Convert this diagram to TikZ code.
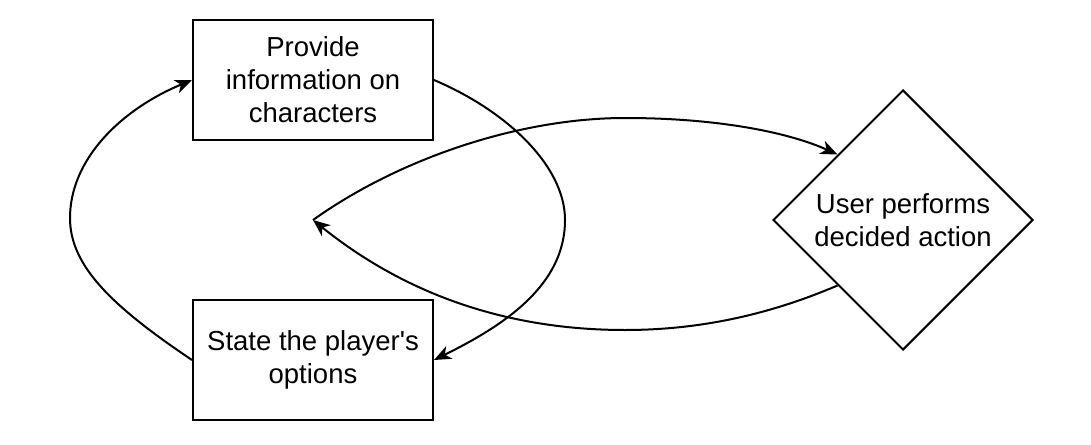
\documentclass[tikz,border=0pt]{standalone}
\usepackage{fontspec}
\setmainfont{Liberation Sans}
\usetikzlibrary{shapes.geometric,arrows.meta}
\newcommand{\straightquote}{\XeTeXglyph\the\XeTeXcharglyph"0027\relax}
\begin{document}
\begin{tikzpicture}[x=1pt,y=-1pt,
  box/.style={draw,line width=2pt,minimum width=240pt,minimum height=120pt,inner sep=0pt,align=center,font=\fontsize{27.5}{33}\selectfont},
  dia/.style={draw,diamond,line width=2pt,minimum width=260pt,minimum height=260pt,inner sep=0pt,align=center,font=\fontsize{27.5}{33}\selectfont},
  conn/.style={line width=2pt,-{Stealth[length=17pt,width=14pt,inset=5pt]}}]
\useasboundingbox (0,0) rectangle (1091,444);
\node[box] (b1) at (313,80) {Provide\\information on\\characters};
\node[box] (b2) at (313,360) {State the player\straightquote s\\options};
\node[dia] (d) at (903,220) {User performs\\decided action};
\coordinate (hub) at (313,220);
\draw[conn] (b2.west) .. controls (110,305) and (70,265) .. (70,218) .. controls (70,160) and (120,110) .. (b1.west);
\draw[conn] (b1.east) .. controls (505,110) and (565,165) .. (565,220) .. controls (565,285) and (505,325) .. (b2.east);
\draw[conn] (hub) .. controls (400,158) and (520,118) .. (625,118) .. controls (720,118) and (790,133) .. (d.north west);
\draw[conn] (d.south west) .. controls (780,310) and (710,330) .. (625,330) .. controls (500,330) and (400,290) .. (hub);
\end{tikzpicture}
\end{document}
